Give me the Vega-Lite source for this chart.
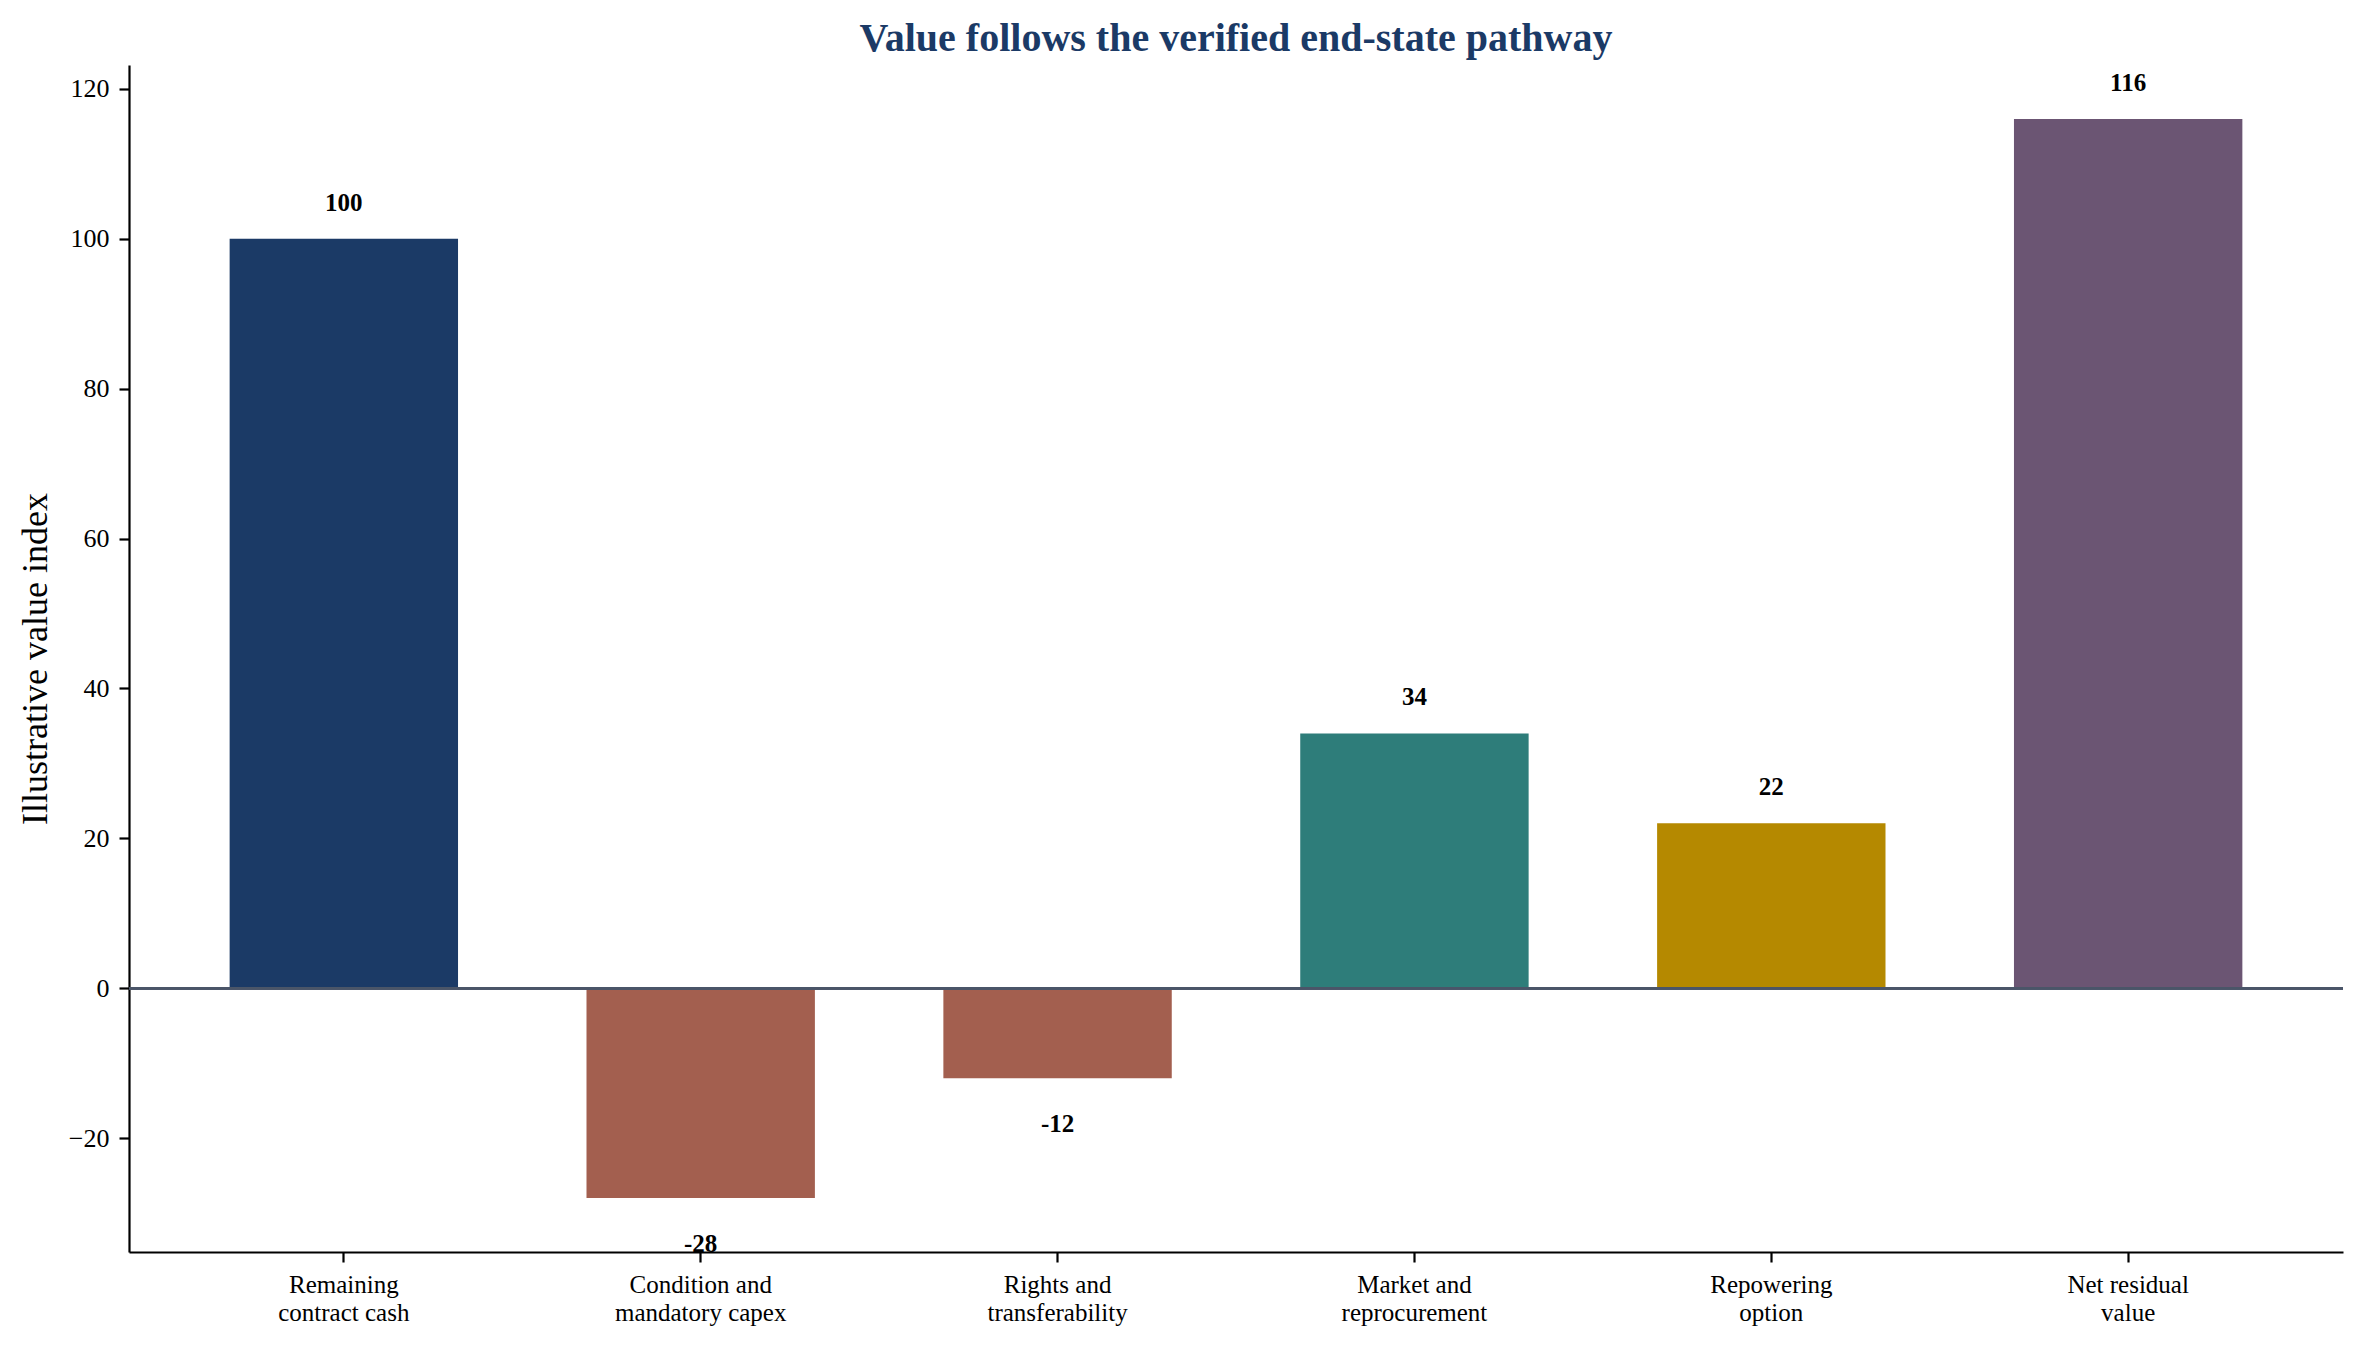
{
  "$schema": "https://vega.github.io/schema/vega-lite/v6.json",
  "width": 2214,
  "height": 1187,
  "autosize": {"type": "none"},
  "padding": {"left": 129, "top": 65, "right": 20, "bottom": 99},
  "background": "white",
  "title": {
    "text": "Value follows the verified end-state pathway",
    "font": "Liberation Serif",
    "fontSize": 40,
    "fontWeight": "bold",
    "color": "#1b3a66",
    "anchor": "middle",
    "frame": "group",
    "offset": 6
  },
  "data": {
    "values": [
      {"step": "Remaining|contract cash", "value": 100},
      {"step": "Condition and|mandatory capex", "value": -28},
      {"step": "Rights and|transferability", "value": -12},
      {"step": "Market and|reprocurement", "value": 34},
      {"step": "Repowering|option", "value": 22},
      {"step": "Net residual|value", "value": 116}
    ]
  },
  "encoding": {
    "x": {
      "field": "step",
      "type": "nominal",
      "sort": null,
      "scale": {"paddingInner": 0.36, "paddingOuter": 0.282},
      "axis": {
        "title": null,
        "labelAngle": 0,
        "labelExpr": "split(datum.label, '|')",
        "labelFontSize": 25,
        "labelLineHeight": 28,
        "labelBaseline": "top",
        "labelPadding": 10,
        "tickSize": 10
      }
    }
  },
  "layer": [
    {
      "mark": {"type": "bar"},
      "encoding": {
        "y": {
          "field": "value",
          "type": "quantitative",
          "scale": {"domain": [-35.2, 123.2], "nice": false, "zero": false},
          "axis": {
            "title": "Illustrative value index",
            "values": [-20, 0, 20, 40, 60, 80, 100, 120],
            "titleFontSize": 36,
            "titleFontWeight": "normal",
            "titlePadding": 14,
            "labelFontSize": 26,
            "labelPadding": 10,
            "tickSize": 10
          }
        },
        "y2": {"datum": 0},
        "color": {
          "field": "step",
          "type": "nominal",
          "legend": null,
          "scale": {
            "domain": ["Remaining|contract cash", "Condition and|mandatory capex", "Rights and|transferability", "Market and|reprocurement", "Repowering|option", "Net residual|value"],
            "range": ["#1b3a66", "#a35f4f", "#a35f4f", "#2e7d7a", "#b58900", "#6b5573"]
          }
        }
      }
    },
    {
      "mark": {"type": "rule", "color": "#4a5568", "strokeWidth": 2.5},
      "encoding": {"y": {"datum": 0}, "x": null}
    },
    {
      "transform": [{"filter": "datum.value >= 0"}],
      "mark": {"type": "text", "baseline": "alphabetic", "dy": -28, "fontSize": 25, "fontWeight": "bold", "color": "black"},
      "encoding": {
        "y": {"field": "value", "type": "quantitative"},
        "text": {"field": "value", "type": "nominal"}
      }
    },
    {
      "transform": [{"filter": "datum.value < 0"}],
      "mark": {"type": "text", "baseline": "alphabetic", "dy": 54, "fontSize": 25, "fontWeight": "bold", "color": "black"},
      "encoding": {
        "y": {"field": "value", "type": "quantitative"},
        "text": {"field": "value", "type": "nominal"}
      }
    }
  ],
  "config": {
    "font": "Liberation Serif",
    "view": {"stroke": null},
    "axis": {
      "grid": false,
      "domainColor": "black",
      "domainWidth": 2.2,
      "tickColor": "black",
      "tickWidth": 2.2,
      "labelColor": "black",
      "titleColor": "black",
      "labelFont": "Liberation Serif",
      "titleFont": "Liberation Serif"
    }
  }
}
